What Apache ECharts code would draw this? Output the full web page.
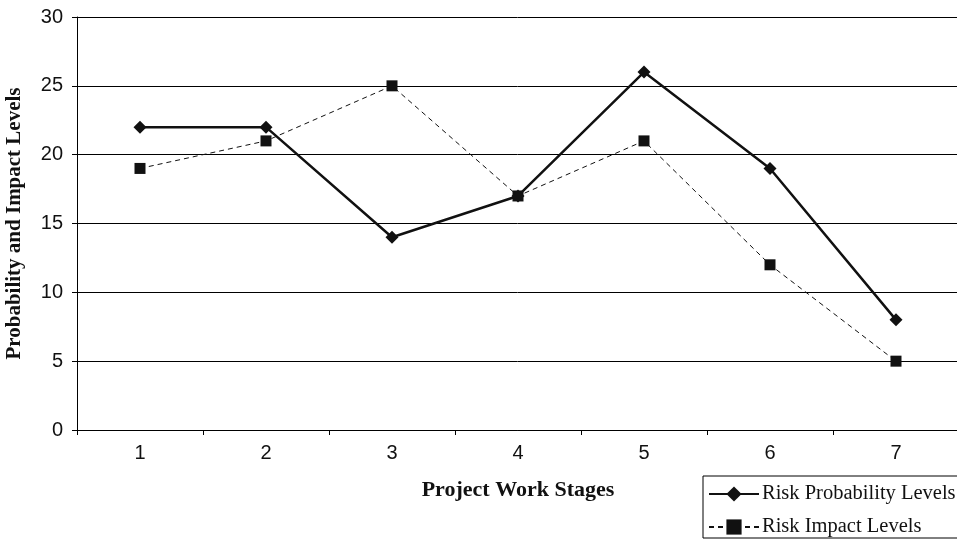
<!DOCTYPE html>
<html>
<head>
<meta charset="utf-8">
<script src="https://cdn.jsdelivr.net/npm/echarts@6/dist/echarts.min.js"></script>
<style>html,body{margin:0;padding:0;background:#fff;}#c{width:957px;height:539px;}</style>
</head>
<body>
<div id="c"></div>
<script>
const categories = ['1', '2', '3', '4', '5', '6', '7'];
const probability = [22, 22, 14, 17, 26, 19, 8];
const impact = [19, 21, 25, 17, 21, 12, 5];
const yTicks = { min: 0, max: 30, interval: 5 };

const chart = echarts.init(document.getElementById('c'), null, { renderer: 'canvas' });
const serif = '"Liberation Serif", "Times New Roman", serif';
const sans = '"Liberation Sans", Arial, sans-serif';
chart.setOption({
  animation: false,
  backgroundColor: '#fff',
  grid: { left: 77, top: 17, right: -2, bottom: 109, containLabel: false, outerBoundsMode: 'none' },
  legend: {
    orient: 'vertical',
    left: 703, top: 476, height: 200, width: 400,
    padding: [7, 60, 0, 5],
    itemWidth: 50, itemHeight: 19, itemGap: 11,
    borderColor: '#000', borderWidth: 1,
    textStyle: { fontFamily: serif, fontSize: 20.5, lineHeight: 22, color: '#111', padding: [0, 0, 0, -2] },
    data: ['Risk Probability Levels', 'Risk Impact Levels']
  },
  xAxis: {
    type: 'category',
    data: categories,
    boundaryGap: true,
    name: 'Project Work Stages',
    nameLocation: 'middle',
    nameGap: 49,
    nameTextStyle: { fontFamily: serif, fontSize: 22, fontWeight: 'bold', color: '#111', verticalAlign: 'top' },
    axisLine: { lineStyle: { color: '#000', width: 1 } },
    axisTick: { show: true, alignWithLabel: false, length: 5, lineStyle: { color: '#000' } },
    axisLabel: { fontFamily: sans, fontSize: 20, color: '#111', margin: 13 },
    splitLine: { show: false }
  },
  yAxis: {
    type: 'value',
    min: yTicks.min, max: yTicks.max, interval: yTicks.interval,
    name: 'Probability and Impact Levels',
    nameLocation: 'middle',
    nameGap: 52,
    nameTextStyle: { fontFamily: serif, fontSize: 21, fontWeight: 'bold', color: '#111' },
    axisLine: { show: true, lineStyle: { color: '#000', width: 1 } },
    axisTick: { show: true, length: 5, lineStyle: { color: '#000' } },
    axisLabel: { fontFamily: sans, fontSize: 20, color: '#111', margin: 14 },
    splitLine: { show: true, lineStyle: { color: '#000', width: 1 } }
  },
  series: [
    {
      name: 'Risk Probability Levels',
      type: 'line',
      data: probability,
      symbol: 'diamond',
      symbolSize: 13,
      itemStyle: { color: '#111' },
      lineStyle: { color: '#111', width: 2.5, type: 'solid' },
      z: 3
    },
    {
      name: 'Risk Impact Levels',
      type: 'line',
      data: impact,
      symbol: 'rect',
      symbolSize: 11,
      itemStyle: { color: '#111' },
      lineStyle: { color: '#111', width: 1, type: [5, 4] },
      z: 2
    }
  ]
});
</script>
</body>
</html>
